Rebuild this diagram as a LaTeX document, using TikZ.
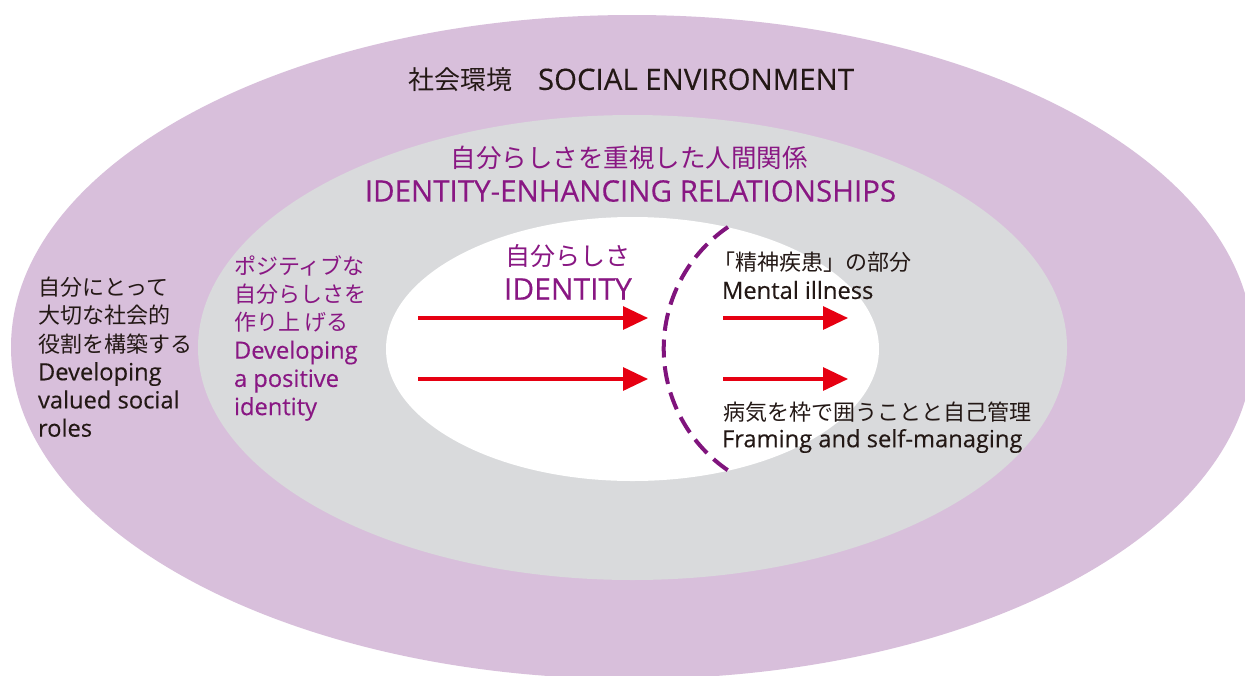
\documentclass[tikz,border=0pt]{standalone}
\usepackage{fontspec}
\setmainfont[FakeBold=0.3]{Open Sans}
\newfontfamily\jp{Noto Sans CJK JP}
\usetikzlibrary{arrows.meta}
\definecolor{outerc}{RGB}{216,191,219}
\definecolor{grayc}{RGB}{217,218,220}
\definecolor{purp}{RGB}{137,23,131}
\definecolor{dashp}{RGB}{128,20,125}
\definecolor{redc}{RGB}{230,0,18}
\definecolor{blk}{RGB}{35,24,21}
\newcommand{\latsmall}{\fontsize{23.7}{28.2}\selectfont}
\newcommand{\jpsmall}{\fontsize{22}{28.2}\selectfont\jp}
\tikzset{
  txt/.style={inner sep=0pt, outer sep=0pt},
  blacktxt/.style={txt, text=blk},
  purptxt/.style={txt, text=purp},
  redarrow/.style={draw=redc, line width=3.2pt, -{Triangle[length=25pt, width=23pt]}},
  dashline/.style={draw=dashp, line width=4pt, dash pattern=on 18pt off 8.8pt}
}
\begin{document}
\begin{tikzpicture}[x=1pt, y=-1pt]
\useasboundingbox (0,0) rectangle (1245,675);
\clip (0,0) rectangle (1245,675);
\fill[white] (0,0) rectangle (1245,675);
% ellipses
\fill[outerc] (632,347) ellipse [x radius=621pt, y radius=332pt];
\fill[grayc] (632.5,347.5) ellipse [x radius=434.5pt, y radius=232.5pt];
\fill[white] (632.5,349) ellipse [x radius=246.5pt, y radius=132pt];
% dashed boundary
\draw[dashline] (728,227) arc [start angle=124.3, end angle=235.7, radius=147.3pt];
% titles
\node[blacktxt, anchor=west, font=\fontsize{29.4}{32}\selectfont] (social) at (408,80) {{\fontsize{26}{30}\selectfont\jp 社会環境　}SOCIAL ENVIRONMENT};
\node[purptxt, font=\fontsize{25.5}{30}\selectfont\jp] (relj) at (629,158) {自分らしさを重視した人間関係};
\node[purptxt, font=\fontsize{29.5}{32}\selectfont] (rele) at (630.5,191) {IDENTITY-ENHANCING RELATIONSHIPS};
\node[purptxt, font=\fontsize{25}{30}\selectfont\jp, anchor=west] (idj) at (505,256) {自分らしさ};
\node[purptxt, font=\fontsize{30}{32}\selectfont, anchor=west] (ide) at (504,289) {IDENTITY};
% left blocks
\node[blacktxt, anchor=west, align=left, font=\latsmall] (roles) at (38,357)
  {{\jpsmall 自分にとって}\\{\jpsmall 大切な社会的}\\{\jpsmall 役割を構築する}\\Developing\\valued social\\roles};
\node[purptxt, anchor=west, align=left, font=\latsmall] (posid) at (234,338)
  {{\jpsmall ポジティブな}\\{\jpsmall 自分らしさを}\\{\jpsmall 作り上 げる}\\Developing\\a positive\\identity};
% right texts
\node[blacktxt, anchor=west, font=\jpsmall] (mij) at (713,262) {「精神疾患」の部分};
\node[blacktxt, anchor=west, font=\latsmall] (mie) at (722,290) {Mental illness};
\node[blacktxt, anchor=west, font=\jpsmall] (frj) at (723,412) {病気を枠で囲うことと自己管理};
\node[blacktxt, anchor=west, font=\latsmall] (fre) at (722,441) {Framing and self-managing};
% arrows
\coordinate (a1s) at (418,318); \coordinate (a1e) at (648,318);
\coordinate (a2s) at (418,379); \coordinate (a2e) at (648,379);
\coordinate (b1s) at (723,318); \coordinate (b1e) at (848,318);
\coordinate (b2s) at (723,379); \coordinate (b2e) at (848,379);
\draw[redarrow] (a1s) -- (a1e);
\draw[redarrow] (a2s) -- (a2e);
\draw[redarrow] (b1s) -- (b1e);
\draw[redarrow] (b2s) -- (b2e);
\end{tikzpicture}
\end{document}
